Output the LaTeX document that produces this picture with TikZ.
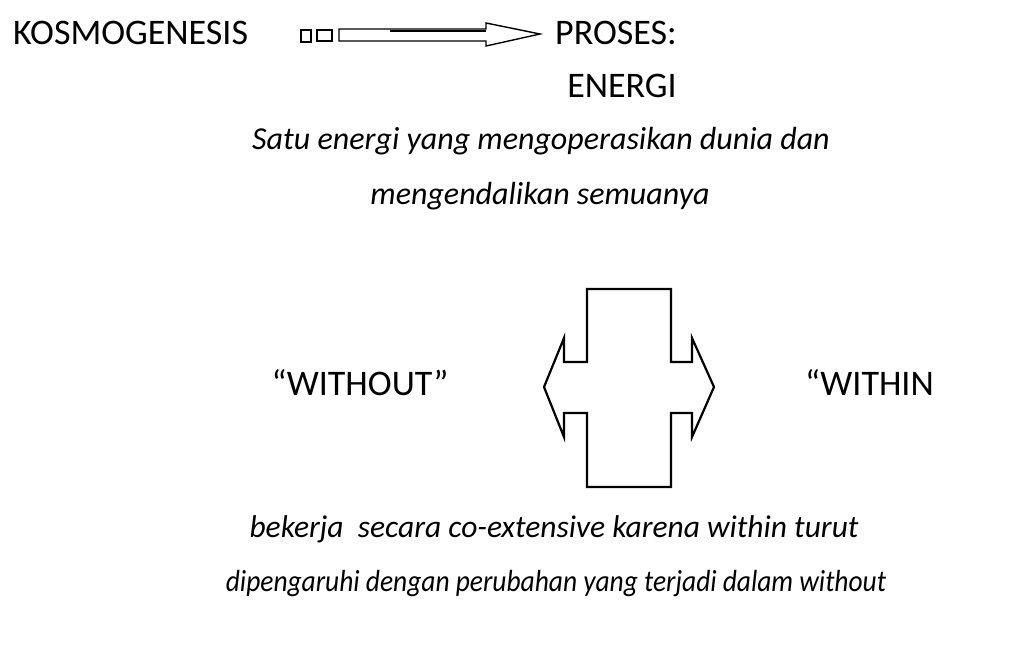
\documentclass[tikz,border=0pt]{standalone}
\usepackage{fontspec}
\setmainfont{Carlito}
\newfontfamily\narrowit[FakeStretch=0.9]{Carlito Italic}
\begin{document}
\begin{tikzpicture}[x=1pt,y=-1pt,
  lbl/.style={font=\fontsize{36}{42}\selectfont, inner sep=0pt, text=black},
  itl/.style={font=\fontsize{32}{38}\selectfont\itshape, inner sep=0pt, text=black},
  shapeline/.style={draw=black, line width=2.2pt, line join=miter},
  thinline/.style={draw=black, line width=1.4pt}]
\useasboundingbox[fill=white] (0,0) rectangle (1025,663);

\node[lbl, anchor=west] (kosmo) at (13,33) {KOSMOGENESIS};
\node[lbl, anchor=west] (proses) at (555,33) {PROSES:};
\node[lbl] (energi) at (622,86) {ENERGI};
\node[itl] (satu) at (541,141) {Satu energi yang mengoperasikan dunia dan};
\node[itl] (meng) at (540,196) {mengendalikan semuanya};
\node[lbl] (without) at (360,383) {“WITHOUT”};
\node[lbl, anchor=west] (within) at (805,383) {“WITHIN};
\node[itl, font=\fontsize{31.5}{38}\selectfont\itshape] (bekerja) at (554,529) {bekerja\ \ secara co-extensive karena within turut};
\node[itl, font=\fontsize{30.5}{36}\narrowit] (dipeng) at (556,584) {dipengaruhi dengan perubahan yang terjadi dalam without};

% top block arrow
\draw[thinline] (301,30) rectangle (311,42);
\draw[thinline] (317,30) rectangle (332,41);
\draw[thinline] (339,29) -- (486,29) -- (486,23) -- (540,34) -- (486,46) -- (486,41) -- (339,41) -- cycle;
\draw[thinline] (390,31) -- (486,31);

% cross-shaped double arrow
\draw[shapeline] (587,289) -- (671,289) -- (671,362) -- (692,362) -- (692,338)
  -- (714,387) -- (692,437) -- (692,413) -- (671,413) -- (671,487)
  -- (587,487) -- (587,413) -- (564,413) -- (564,437) -- (544,387)
  -- (564,338) -- (564,362) -- (587,362) -- cycle;
\end{tikzpicture}
\end{document}
